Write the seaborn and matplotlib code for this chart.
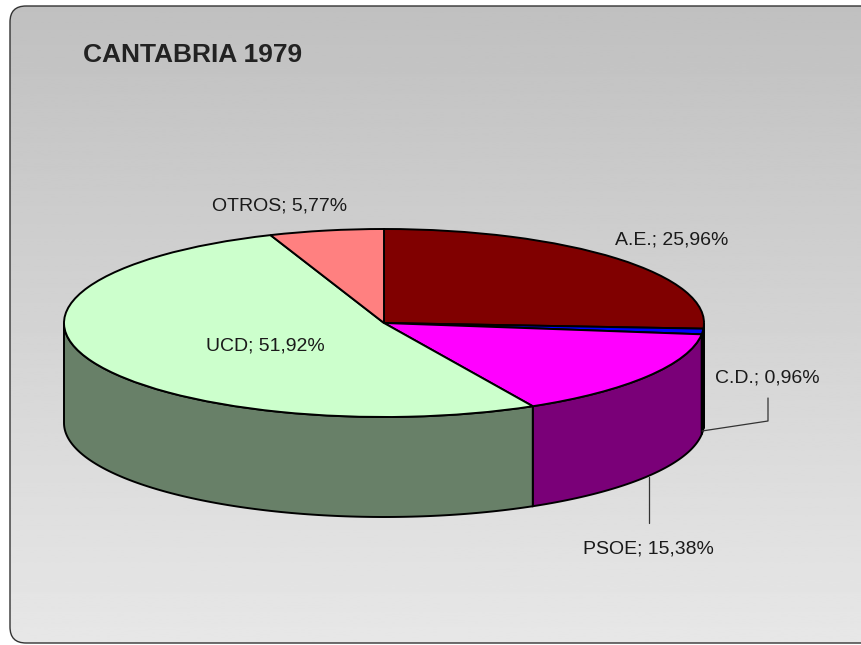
import numpy as np
import seaborn as sns
import matplotlib.pyplot as plt
from matplotlib import font_manager
from matplotlib.patches import FancyBboxPatch, Polygon

# CANTABRIA 1979 - resultados electorales (pie 3D estilo Excel)
partidos = ['A.E.', 'C.D.', 'PSOE', 'UCD', 'OTROS']
porcentajes = [25.96, 0.96, 15.38, 51.92, 5.77]
etiquetas = ['A.E.; 25,96%', 'C.D.; 0,96%', 'PSOE; 15,38%', 'UCD; 51,92%', 'OTROS; 5,77%']

col_top = sns.color_palette(['#800000', '#0000ff', '#ff00ff', '#ccffcc', '#ff8080'])
col_side = sns.color_palette(['#400000', '#000060', '#7a0078', '#688068', '#804040'])

sns.set_theme(style='white')
plt.rcParams['font.family'] = ['Liberation Sans', 'DejaVu Sans']

# narrow font if there is one, otherwise a smaller regular one
names = {f.name for f in font_manager.fontManager.ttflist}
if 'Liberation Sans Narrow' in names:
    lab_family, lab_size = 'Liberation Sans Narrow', 16.5
else:
    lab_family, lab_size = 'Liberation Sans', 14

W, H = 861, 645
fig = plt.figure(figsize=(W / 100, H / 100), dpi=100)
fig.patch.set_facecolor('white')

# background frame with gradient
bg = fig.add_axes([0, 0, 1, 1])
bg.set_xlim(0, W)
bg.set_ylim(H, 0)
bg.axis('off')
frame = FancyBboxPatch((10, 6), 890, 637, boxstyle='round,pad=0,rounding_size=16',
                       facecolor='none', edgecolor='#333333', linewidth=1.0, zorder=3)
bg.add_patch(frame)
grad = np.linspace(0.753, 0.906, 256).reshape(-1, 1)
im = bg.imshow(grad, cmap='gray', vmin=0, vmax=1, extent=(10, 900, 643, 6),
               aspect='auto', zorder=1)
im.set_clip_path(frame)

# pie axes: data (0,0) = centre of top ellipse
cx, cy, rx, ry, depth = 384, 323, 320, 94, 100
ax = fig.add_axes([0, 0, 1, 1])
ax.patch.set_alpha(0)
wedges, _ = ax.pie(porcentajes, startangle=90, counterclock=False, colors=col_top,
                   wedgeprops=dict(edgecolor='black', linewidth=1.4, zorder=5))
ax.set_aspect('auto')
ax.set_xlim(-cx / rx, (W - cx) / rx)
ax.set_ylim(-(H - cy) / ry, cy / ry)
ax.axis('off')

d = depth / ry
for w, c in zip(wedges, col_side):
    t1, t2 = w.theta1, w.theta2
    for shift in (-360, 0, 360):
        a = max(t1 + shift, 180)
        b = min(t2 + shift, 360)
        if b <= a:
            continue
        t = np.radians(np.linspace(a, b, 120))
        xs = np.cos(t)
        ys = np.sin(t)
        pts = np.vstack([np.column_stack([xs, ys]),
                         np.column_stack([xs[::-1], ys[::-1] - d])])
        ax.add_patch(Polygon(pts, closed=True, facecolor=c, edgecolor='black',
                             linewidth=1.4, zorder=2))


def fx(px):
    return px / W


def fy(py):
    return 1 - py / H


# labels
label_pos = [(672, 240), (767, 378), (648, 549), (265, 346), (280, 206)]
for txt, (px, py) in zip(etiquetas, label_pos):
    fig.text(fx(px), fy(py), txt, ha='center', va='center', fontsize=lab_size,
             color='#1a1a1a', family=lab_family)

# leader lines
fig.add_artist(plt.Line2D([fx(702), fx(768), fx(768)], [fy(431), fy(421), fy(398)],
                          color='#333333', linewidth=0.9))
fig.add_artist(plt.Line2D([fx(649), fx(649)], [fy(477), fy(523)],
                          color='#333333', linewidth=0.9))

fig.text(fx(83), fy(55), 'CANTABRIA 1979', ha='left', va='center', fontsize=19,
         fontweight='bold', color='#222222')

fig.savefig('out.png', dpi=100)
